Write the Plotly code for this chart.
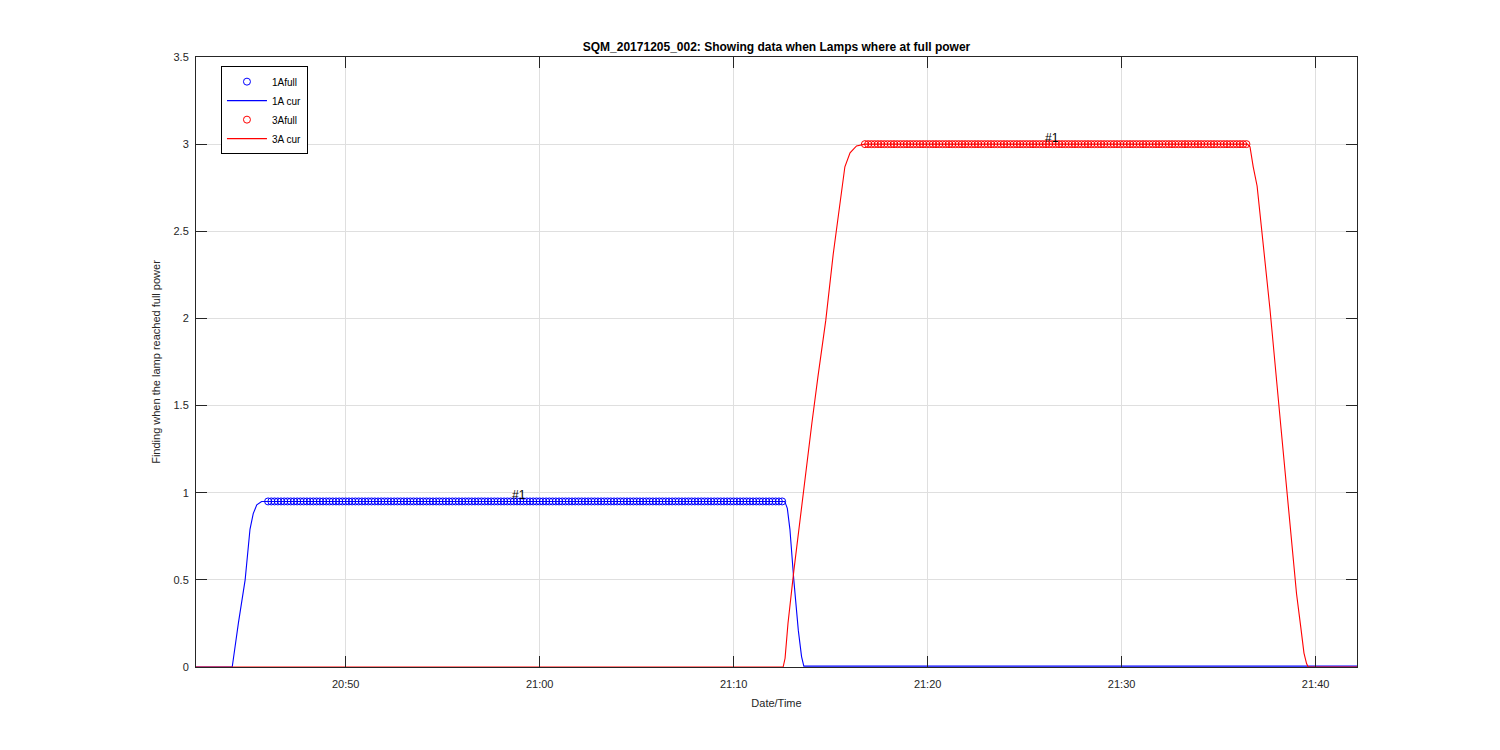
import pandas as pd
import plotly.graph_objects as go

DAY = "2017-12-05 "

# --- 1A current curve (time, value) ---
cur1_t = ["20:42:17", "20:44:09", "20:44:28", "20:44:49", "20:45:04", "20:45:14",
          "20:45:25", "20:45:40", "20:46:00", "21:12:38", "21:12:46", "21:12:54",
          "21:13:06", "21:13:20", "21:13:30", "21:13:37", "21:42:08"]
cur1_v = [0.0, 0.0, 0.25, 0.5, 0.79, 0.88,
          0.93, 0.95, 0.95, 0.95, 0.91, 0.79,
          0.50, 0.21, 0.06, 0.005, 0.005]

# --- 3A current curve (time, value) ---
cur3_t = ["20:42:17", "21:12:33", "21:12:39", "21:12:48", "21:13:06", "21:13:25",
          "21:13:44", "21:14:02", "21:14:21", "21:14:45", "21:15:08", "21:15:34",
          "21:15:44", "21:16:00", "21:16:20", "21:16:46", "21:36:29", "21:36:37",
          "21:36:47", "21:36:59", "21:37:13", "21:37:26", "21:37:39", "21:38:13",
          "21:38:49", "21:39:01", "21:39:14", "21:39:24", "21:39:32", "21:39:37",
          "21:42:08"]
cur3_v = [0.0, 0.0, 0.05, 0.25, 0.55, 0.85,
          1.12, 1.40, 1.67, 1.99, 2.37, 2.75,
          2.87, 2.95, 2.99, 3.0, 3.0, 2.985,
          2.87, 2.76, 2.51, 2.28, 2.05, 1.37,
          0.67, 0.42, 0.23, 0.08, 0.02, 0.0,
          0.0]

# --- full-power samples (sampled every 10 s) ---
full1_start, full1_end, full1_value = "20:46:00", "21:12:38", 0.95
full3_start, full3_end, full3_value = "21:16:46", "21:36:29", 3.0
sample_period = "10s"

# labels
label1_t, label1_v = "20:58:55", 0.95
label3_t, label3_v = "21:26:25", 3.0

x_range = ["20:42:17", "21:42:08"]
x_ticks = ["20:50", "21:00", "21:10", "21:20", "21:30", "21:40"]
y_ticks = [0, 0.5, 1, 1.5, 2, 2.5, 3, 3.5]


def ts(lst):
    return pd.to_datetime([DAY + t for t in lst])


full1_t = pd.date_range(DAY + full1_start, DAY + full1_end, freq=sample_period)
full3_t = pd.date_range(DAY + full3_start, DAY + full3_end, freq=sample_period)

BLUE = "#0000ff"
RED = "#ff0000"
AX = "#262626"

fig = go.Figure()
fig.add_trace(go.Scatter(x=full1_t, y=[full1_value] * len(full1_t), mode="markers",
                         name="1Afull",
                         marker=dict(symbol="circle-open", size=7, color=BLUE,
                                     line=dict(width=1, color=BLUE))))
fig.add_trace(go.Scatter(x=ts(cur1_t), y=cur1_v, mode="lines", name="1A cur",
                         line=dict(color=BLUE, width=1.1)))
fig.add_trace(go.Scatter(x=full3_t, y=[full3_value] * len(full3_t), mode="markers",
                         name="3Afull",
                         marker=dict(symbol="circle-open", size=7, color=RED,
                                     line=dict(width=1, color=RED))))
fig.add_trace(go.Scatter(x=ts(cur3_t), y=cur3_v, mode="lines", name="3A cur",
                         line=dict(color=RED, width=1.1)))

for t, v in [(label1_t, label1_v), (label3_t, label3_v)]:
    fig.add_annotation(x=pd.Timestamp(DAY + t), y=v, text="#1", showarrow=False,
                       yanchor="bottom", yshift=-3,
                       font=dict(family="Liberation Sans, Arial", size=12, color="black"))

# page body has an 8px margin; compensate so the plot box lands at 196..1357 x 57..667
fig.update_layout(
    width=1500, height=750,
    paper_bgcolor="white", plot_bgcolor="white",
    margin=dict(l=188, r=151, t=49, b=91),
    font=dict(family="Liberation Sans, Arial", size=11, color=AX),
    title=dict(text="<b>SQM_20171205_002: Showing data when Lamps where at full power</b>",
               x=(188 + 1349) / 2 / 1500, xanchor="center", y=1 - 39 / 750, yanchor="middle",
               font=dict(size=12, color="black")),
    showlegend=True,
    legend=dict(x=0.0215, y=0.985, xanchor="left", yanchor="top",
                bgcolor="white", bordercolor="black", borderwidth=1,
                font=dict(size=10, color="black"), tracegroupgap=0,
                itemwidth=40),
)

fig.update_xaxes(
    range=ts(x_range), tickvals=ts(x_ticks), ticktext=x_ticks,
    showgrid=True, gridcolor="#dfdfdf", gridwidth=1,
    ticks="inside", ticklen=11, tickcolor=AX, tickwidth=1,
    showline=True, linecolor=AX, linewidth=1, mirror="ticks",
    zeroline=False, ticklabelstandoff=7,
    title=dict(text="Date/Time", font=dict(size=11, color=AX), standoff=10),
    tickfont=dict(size=11, color=AX),
)
fig.update_yaxes(
    range=[0, 3.5], tickvals=y_ticks,
    showgrid=True, gridcolor="#dfdfdf", gridwidth=1,
    ticks="inside", ticklen=11, tickcolor=AX, tickwidth=1,
    showline=True, linecolor=AX, linewidth=1, mirror="ticks",
    zeroline=False, ticklabelstandoff=4,
    title=dict(text="Finding when the lamp reached full power", font=dict(size=11, color=AX),
               standoff=10),
    tickfont=dict(size=11, color=AX),
)

fig.write_html("out.html")
